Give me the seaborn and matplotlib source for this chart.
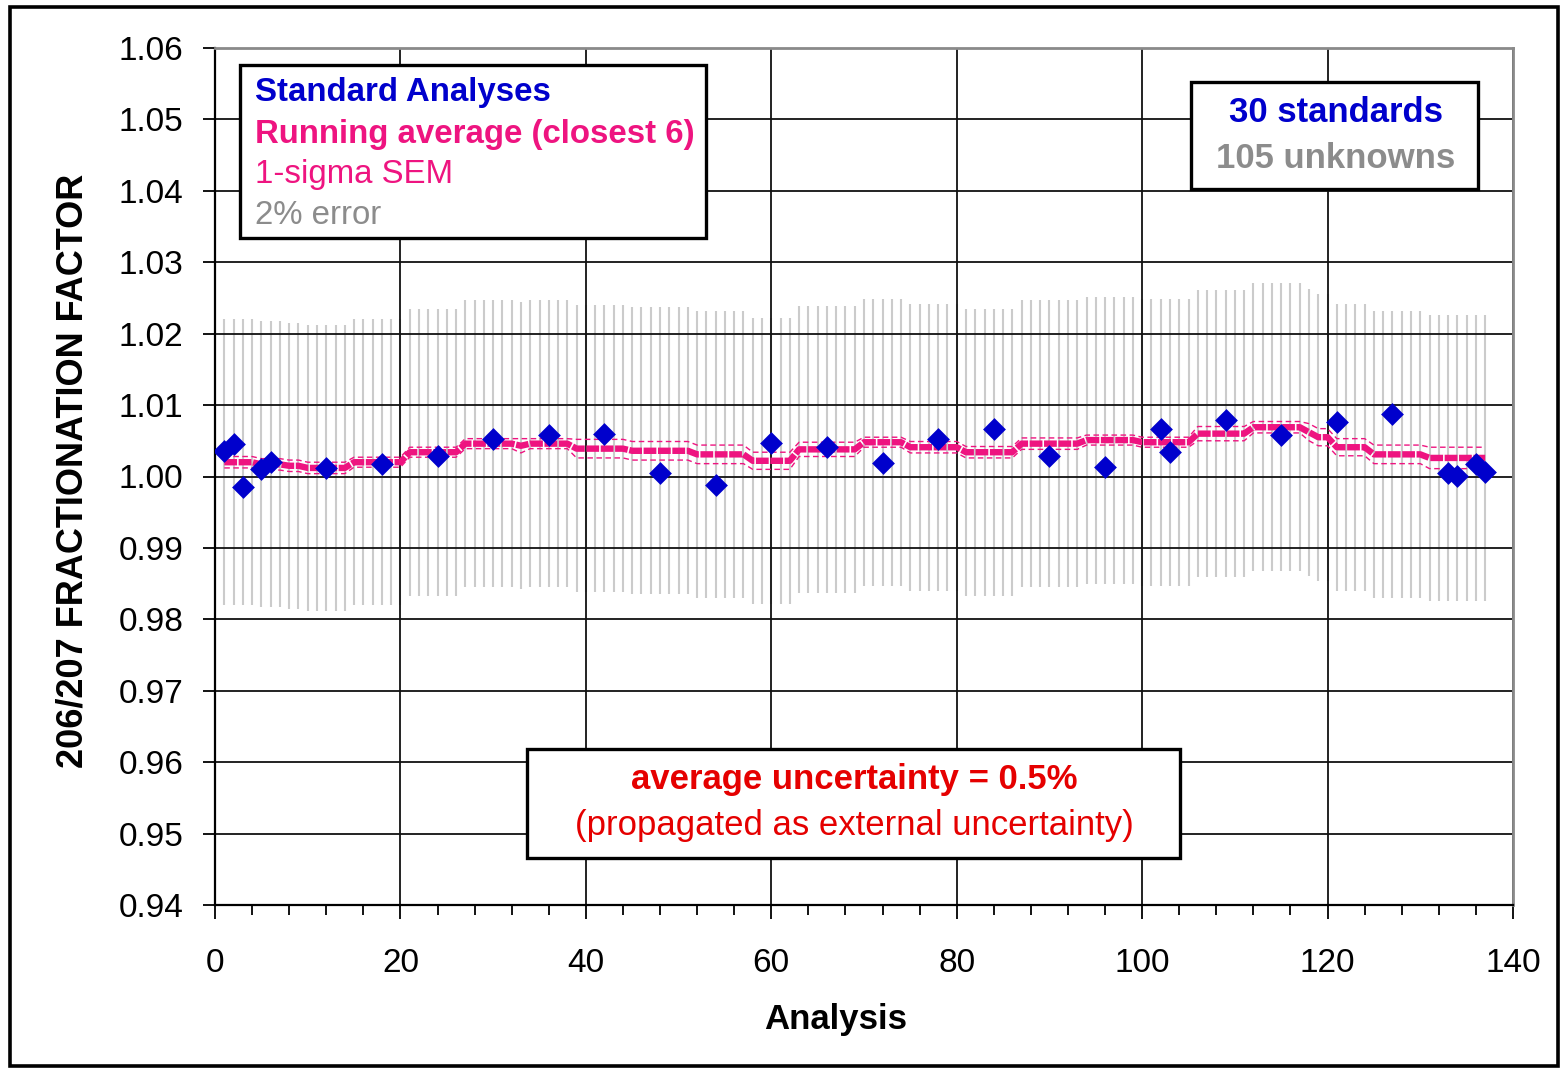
import numpy as np
import pandas as pd
import matplotlib
matplotlib.use("Agg")
import matplotlib.pyplot as plt
import seaborn as sns
from matplotlib.patches import Rectangle
from matplotlib.ticker import MultipleLocator, FormatStrFormatter

# ---------------- data ----------------
std_analysis = [1, 2, 3, 5, 6, 12, 18, 24, 30, 36, 42, 48, 54, 60, 66, 72, 78, 84,
                90, 96, 102, 103, 109, 115, 121, 127, 133, 134, 136, 137]
std_factor = [1.0036, 1.0046, 0.9985, 1.0010, 1.0020, 1.0012, 1.0018, 1.0029,
              1.0053, 1.0058, 1.0060, 1.0005, 0.9988, 1.0047, 1.0041, 1.0019,
              1.0053, 1.0067, 1.0029, 1.0014, 1.0067, 1.0034, 1.0079, 1.0058,
              1.0077, 1.0088, 1.0005, 1.0001, 1.0017, 1.0006]

analysis = list(range(1, 138))
running_avg = [
    1.0020, 1.0020, 1.0020, 1.0020, 1.0017, 1.0017, 1.0017, 1.0015, 1.0015, 1.0012,  # 1-10
    1.0012, 1.0012, 1.0012, 1.0012, 1.0020, 1.0020, 1.0020, 1.0020, 1.0020, 1.0020,  # 11-20
    1.0034, 1.0034, 1.0034, 1.0034, 1.0034, 1.0034, 1.0046, 1.0046, 1.0046, 1.0046,  # 21-30
    1.0046, 1.0046, 1.0043, 1.0046, 1.0046, 1.0046, 1.0046, 1.0046, 1.0039, 1.0039,  # 31-40
    1.0039, 1.0039, 1.0039, 1.0039, 1.0036, 1.0036, 1.0036, 1.0036, 1.0036, 1.0036,  # 41-50
    1.0036, 1.0031, 1.0031, 1.0031, 1.0031, 1.0031, 1.0031, 1.0022, 1.0022, 1.0022,  # 51-60
    1.0022, 1.0022, 1.0038, 1.0038, 1.0038, 1.0038, 1.0038, 1.0038, 1.0038, 1.0048,  # 61-70
    1.0048, 1.0048, 1.0048, 1.0048, 1.0041, 1.0041, 1.0041, 1.0041, 1.0041, 1.0041,  # 71-80
    1.0034, 1.0034, 1.0034, 1.0034, 1.0034, 1.0034, 1.0046, 1.0046, 1.0046, 1.0046,  # 81-90
    1.0046, 1.0046, 1.0046, 1.0051, 1.0051, 1.0051, 1.0051, 1.0051, 1.0051, 1.0048,  # 91-100
    1.0048, 1.0048, 1.0048, 1.0048, 1.0048, 1.0060, 1.0060, 1.0060, 1.0060, 1.0060,  # 101-110
    1.0060, 1.0069, 1.0069, 1.0069, 1.0069, 1.0069, 1.0069, 1.0062, 1.0055, 1.0055,  # 111-120
    1.0041, 1.0041, 1.0041, 1.0041, 1.0031, 1.0031, 1.0031, 1.0031, 1.0031, 1.0031,  # 121-130
    1.0026, 1.0026, 1.0026, 1.0026, 1.0026, 1.0026, 1.0026,                          # 131-137
]
running_sem = [
    0.0008, 0.0008, 0.0008, 0.0008, 0.0008, 0.0008, 0.0008, 0.0008, 0.0008, 0.0008,
    0.0008, 0.0008, 0.0008, 0.0008, 0.0007, 0.0007, 0.0007, 0.0007, 0.0007, 0.0007,
    0.0007, 0.0007, 0.0007, 0.0007, 0.0007, 0.0007, 0.0007, 0.0007, 0.0007, 0.0007,
    0.0007, 0.0007, 0.0010, 0.0007, 0.0007, 0.0007, 0.0007, 0.0007, 0.0013, 0.0013,
    0.0013, 0.0013, 0.0013, 0.0013, 0.0013, 0.0013, 0.0013, 0.0013, 0.0013, 0.0013,
    0.0013, 0.0013, 0.0013, 0.0013, 0.0013, 0.0013, 0.0013, 0.0012, 0.0012, 0.0012,
    0.0012, 0.0012, 0.0010, 0.0010, 0.0010, 0.0010, 0.0010, 0.0010, 0.0010, 0.0007,
    0.0007, 0.0007, 0.0007, 0.0007, 0.0008, 0.0008, 0.0008, 0.0008, 0.0008, 0.0008,
    0.0008, 0.0008, 0.0008, 0.0008, 0.0008, 0.0008, 0.0008, 0.0008, 0.0008, 0.0008,
    0.0008, 0.0008, 0.0008, 0.0007, 0.0007, 0.0007, 0.0007, 0.0007, 0.0007, 0.0007,
    0.0007, 0.0007, 0.0007, 0.0007, 0.0007, 0.0010, 0.0010, 0.0010, 0.0010, 0.0010,
    0.0010, 0.0008, 0.0008, 0.0008, 0.0008, 0.0008, 0.0008, 0.0012, 0.0012, 0.0012,
    0.0012, 0.0012, 0.0012, 0.0012, 0.0013, 0.0013, 0.0013, 0.0013, 0.0013, 0.0013,
    0.0015, 0.0015, 0.0015, 0.0015, 0.0015, 0.0015, 0.0015,
]
error_fraction = 0.02  # "2% error"

# ---------------- styling ----------------
sns.set_theme(style="white")
plt.rcParams["font.family"] = ["Liberation Sans", "DejaVu Sans"]

W, H = 1561, 1069
BLUE = "#0000CC"
PINK = "#EE1480"
GRAY = "#8C8C8C"
RED = "#E50000"

fig = plt.figure(figsize=(W / 100, H / 100), dpi=100)
fig.patch.set_facecolor("white")
ax = fig.add_axes([215 / W, 1 - 905 / H, (1513 - 215) / W, (905 - 48) / H])

df_avg = pd.DataFrame({"analysis": analysis, "avg": running_avg, "sem": running_sem})
df_avg["lo"] = df_avg["avg"] - df_avg["sem"]
df_avg["hi"] = df_avg["avg"] + df_avg["sem"]
df_avg["err_lo"] = df_avg["avg"] * (1 - error_fraction)
df_avg["err_hi"] = df_avg["avg"] * (1 + error_fraction)
df_std = pd.DataFrame({"analysis": std_analysis, "factor": std_factor})

# 2% error bars
ax.vlines(df_avg["analysis"], df_avg["err_lo"], df_avg["err_hi"],
          color="#CBCBCB", linewidth=1.5, zorder=1)

# SEM dashed lines
for col in ["lo", "hi"]:
    sns.lineplot(data=df_avg, x="analysis", y=col, ax=ax, color=PINK,
                 linewidth=1.0, linestyle=(0, (4, 2.5)), zorder=3)
# Running average
sns.lineplot(data=df_avg, x="analysis", y="avg", ax=ax, color=PINK,
             linewidth=4.6, linestyle=(0, (2.0, 0.25)), zorder=4)
# Standards
sns.scatterplot(data=df_std, x="analysis", y="factor", ax=ax, marker="D",
                s=135, color=BLUE, edgecolor=BLUE, linewidth=0, zorder=5)

ax.set_xlim(0, 140)
ax.set_ylim(0.94, 1.06)
ax.xaxis.set_major_locator(MultipleLocator(20))
ax.xaxis.set_minor_locator(MultipleLocator(4))
ax.yaxis.set_major_locator(MultipleLocator(0.01))
ax.yaxis.set_major_formatter(FormatStrFormatter("%.2f"))
ax.set_axisbelow("line")
ax.grid(True, which="major", color="#111111", linewidth=1.3)
ax.grid(False, which="minor")
ax.set_xlabel("")
ax.set_ylabel("")

for side in ["left", "bottom"]:
    ax.spines[side].set_color("black")
    ax.spines[side].set_linewidth(1.6)
for side in ["top", "right"]:
    ax.spines[side].set_color("#8A8A8A")
    ax.spines[side].set_linewidth(2.0)

ax.tick_params(axis="y", which="major", direction="out", length=8.6, width=1.3,
               color="black", labelsize=24, pad=14, left=True, labelcolor="black")
ax.tick_params(axis="x", which="major", direction="out", length=10, width=1.3,
               color="black", labelsize=24, pad=21, bottom=True, labelcolor="black")
ax.tick_params(axis="x", which="minor", direction="out", length=7, width=1.3,
               color="black", bottom=True)

def fx(px):
    return px / W

def fy(py):
    return 1 - py / H

# axis titles
fig.text(fx(73), fy(471), "206/207 FRACTIONATION FACTOR", rotation=90,
         ha="center", va="center", fontsize=26, fontweight="bold", color="black")
fig.text(fx(836), fy(1020), "Analysis", ha="center", va="center",
         fontsize=25, fontweight="bold", color="black")

def box(x0, y0, x1, y1):
    fig.add_artist(Rectangle((fx(x0), fy(y1)), (x1 - x0) / W, (y1 - y0) / H,
                             transform=fig.transFigure, facecolor="white",
                             edgecolor="black", linewidth=2.4, zorder=10))

# legend box
box(240, 65, 706, 238)
fig.text(fx(255), fy(93), "Standard Analyses", ha="left", va="center",
         fontsize=23.8, fontweight="bold", color=BLUE, zorder=11)
fig.text(fx(255), fy(134), "Running average (closest 6)", ha="left", va="center",
         fontsize=23.8, fontweight="bold", color=PINK, zorder=11)
fig.text(fx(255), fy(175), "1-sigma SEM", ha="left", va="center",
         fontsize=23.8, color=PINK, zorder=11)
fig.text(fx(255), fy(216), "2% error", ha="left", va="center",
         fontsize=23.8, color=GRAY, zorder=11)

# counts box
box(1191, 82, 1478, 189)
fig.text(fx(1336), fy(112), "30 standards", ha="center", va="center",
         fontsize=25, fontweight="bold", color=BLUE, zorder=11)
fig.text(fx(1336), fy(158), "105 unknowns", ha="center", va="center",
         fontsize=25, fontweight="bold", color=GRAY, zorder=11)

# uncertainty box
box(527, 749, 1180, 858)
fig.text(fx(854), fy(780), "average uncertainty = 0.5%", ha="center", va="center",
         fontsize=25, fontweight="bold", color=RED, zorder=11)
fig.text(fx(854), fy(825), "(propagated as external uncertainty)", ha="center",
         va="center", fontsize=25, color=RED, zorder=11)

# outer frame
fig.add_artist(Rectangle((fx(10), fy(1066)), (1558 - 10) / W, (1066 - 7) / H,
                         transform=fig.transFigure, fill=False,
                         edgecolor="black", linewidth=2.6, zorder=12))

fig.savefig("out.png", dpi=100, facecolor="white")
